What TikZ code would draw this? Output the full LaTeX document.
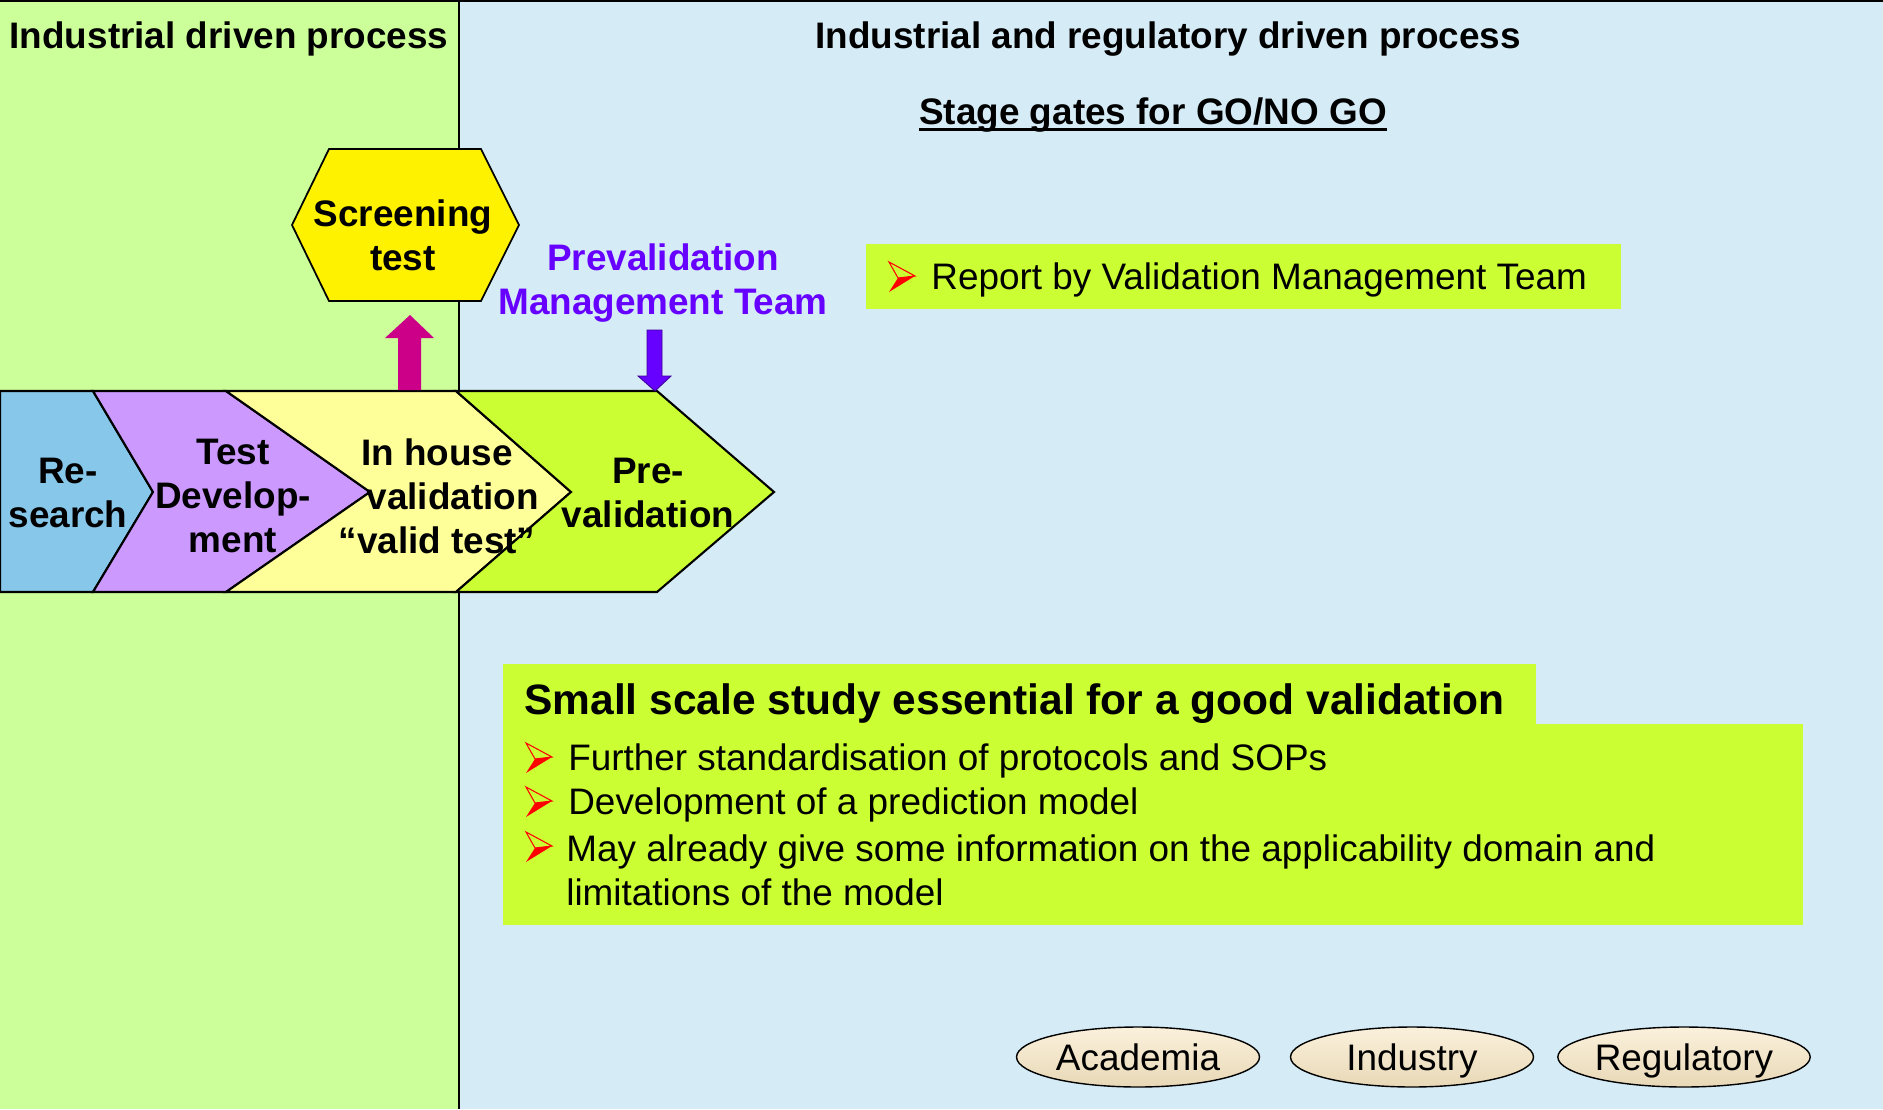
\documentclass[tikz,border=0pt]{standalone}
\usepackage{fontspec}
\setmainfont{Liberation Sans}
\usetikzlibrary{shapes.geometric}

\definecolor{leftgreen}{HTML}{CCFF99}
\definecolor{rightblue}{HTML}{D5EBF6}
\definecolor{limebox}{HTML}{CCFF33}
\definecolor{skyblue}{HTML}{87C7EA}
\definecolor{lilac}{HTML}{CC99FF}
\definecolor{paleyellow}{HTML}{FFFF99}
\definecolor{screenmagenta}{HTML}{CC0088}
\definecolor{pmtviolet}{HTML}{6600FF}
\definecolor{creamtop}{HTML}{FBF1DC}
\definecolor{creambottom}{HTML}{E8D8B6}

\tikzset{bulletarrow/.pic={
  \draw[red, line width=0.6pt, line join=miter] (-13,-15) -- (13,-1) -- (-4,1) -- cycle;
  \fill[red] (-4,1) -- (13,-1) -- (-13,15) -- cycle;
}}

\begin{document}
\begin{tikzpicture}
  [x=0.02cm, y=-0.02cm]
  \tikzstyle{boldtext}  = [font=\fontsize{21pt}{25pt}\selectfont\bfseries, align=center, inner sep=0pt];
  \tikzstyle{plaintext} = [font=\fontsize{21pt}{25pt}\selectfont, inner sep=0pt];
  \tikzstyle{chevron}   = [draw=black, line width=1.2pt, line join=miter];
  \tikzstyle{party}     = [ellipse, draw=black, line width=0.8pt, top color=creamtop, bottom color=creambottom,
                           minimum width=4.86cm, minimum height=1.2cm, plaintext, text height=15pt, text depth=0pt];

  \useasboundingbox (0,0) rectangle (1883,1109);

  % panels
  \fill[leftgreen] (0,0) rectangle (459,1109);
  \fill[rightblue] (459,0) rectangle (1883,1109);
  \draw[line width=1pt] (0,1) -- (1883,1);
  \draw[line width=1pt] (459,0) -- (459,1109);

  \node[boldtext] (indtitle) at (229,39) {Industrial driven process};
  \node[boldtext] (regtitle) at (1168,39) {Industrial and regulatory driven process};
  \node[boldtext] (gates) at (1153,115) {Stage gates for GO/NO GO};
  \draw[line width=1.6pt] ([yshift=-3pt]gates.base west) -- ([yshift=-3pt]gates.base east);

  % chevrons
  \draw[chevron, fill=skyblue]    (0,391) -- (93,391) -- (153,492) -- (93,592) -- (0,592) -- cycle;
  \draw[chevron, fill=lilac]      (93,391) -- (226,391) -- (370,492) -- (226,592) -- (93,592) -- (153,492) -- cycle;
  \draw[chevron, fill=paleyellow] (226,391) -- (456,391) -- (571,492) -- (456,592) -- (226,592) -- (370,492) -- cycle;
  \draw[chevron, fill=limebox]    (456,391) -- (657,391) -- (774,492) -- (657,592) -- (456,592) -- (571,492) -- cycle;

  \node[boldtext] (research) at (68,493) {Re-\\search};
  \node[boldtext] (testdev) at (233,496) {Test\\Develop-\\ment};
  \node[boldtext] (inhouse) at (437,496) {In house\\\hspace*{0.85em}validation\\“valid test”};
  \node[boldtext] (preval) at (648,493) {Pre-\\validation};

  % screening test
  \draw[fill=yellow, line width=1pt] (329,149) -- (481,149) -- (519,225) -- (481,301) -- (329,301) -- (292,225) -- cycle;
  \node[boldtext] (screen) at (403,235) {Screening\\test};
  \fill[screenmagenta] (398,390) -- (398,338) -- (385,338) -- (410,315) -- (434,338) -- (421,338) -- (421,390) -- cycle;

  % prevalidation team
  \node[boldtext, text=pmtviolet] (pmt) at (663,283) {Prevalidation\\Management Team};
  \filldraw[fill=pmtviolet, draw=pmtviolet!60!black, line width=0.5pt]
    (647,330) -- (662,330) -- (662,376) -- (671,376) -- (655,391) -- (638,376) -- (647,376) -- cycle;

  % report box
  \fill[limebox] (866,244) rectangle (1621,309);
  \pic at (902,277) {bulletarrow};
  \node[plaintext, anchor=west] (report) at (931,280) {Report by Validation Management Team};

  % small scale study
  \fill[limebox] (503,664) rectangle (1536,724);
  \fill[limebox] (503,724) rectangle (1803,925);
  \node[font=\fontsize{24.2pt}{29pt}\selectfont\bfseries, inner sep=0pt, anchor=west] (smallscale) at (524,704)
    {Small scale study essential for a good validation};
  \pic at (539,758) {bulletarrow};
  \pic at (539,802) {bulletarrow};
  \pic at (539,847) {bulletarrow};
  \node[plaintext, anchor=west] (sops) at (568,761) {Further standardisation of protocols and SOPs};
  \node[plaintext, anchor=west] (model) at (568,805) {Development of a prediction model};
  \node[plaintext, anchor=west, align=left] (domain) at (566,870)
    {May already give some information on the applicability domain and\\limitations of the model};

  % parties
  \node[party] (academia) at (1138,1057) {Academia};
  \node[party] (industry) at (1412,1057) {Industry};
  \node[party] (regulatory) at (1684,1057) {Regulatory};

\end{tikzpicture}
\end{document}
